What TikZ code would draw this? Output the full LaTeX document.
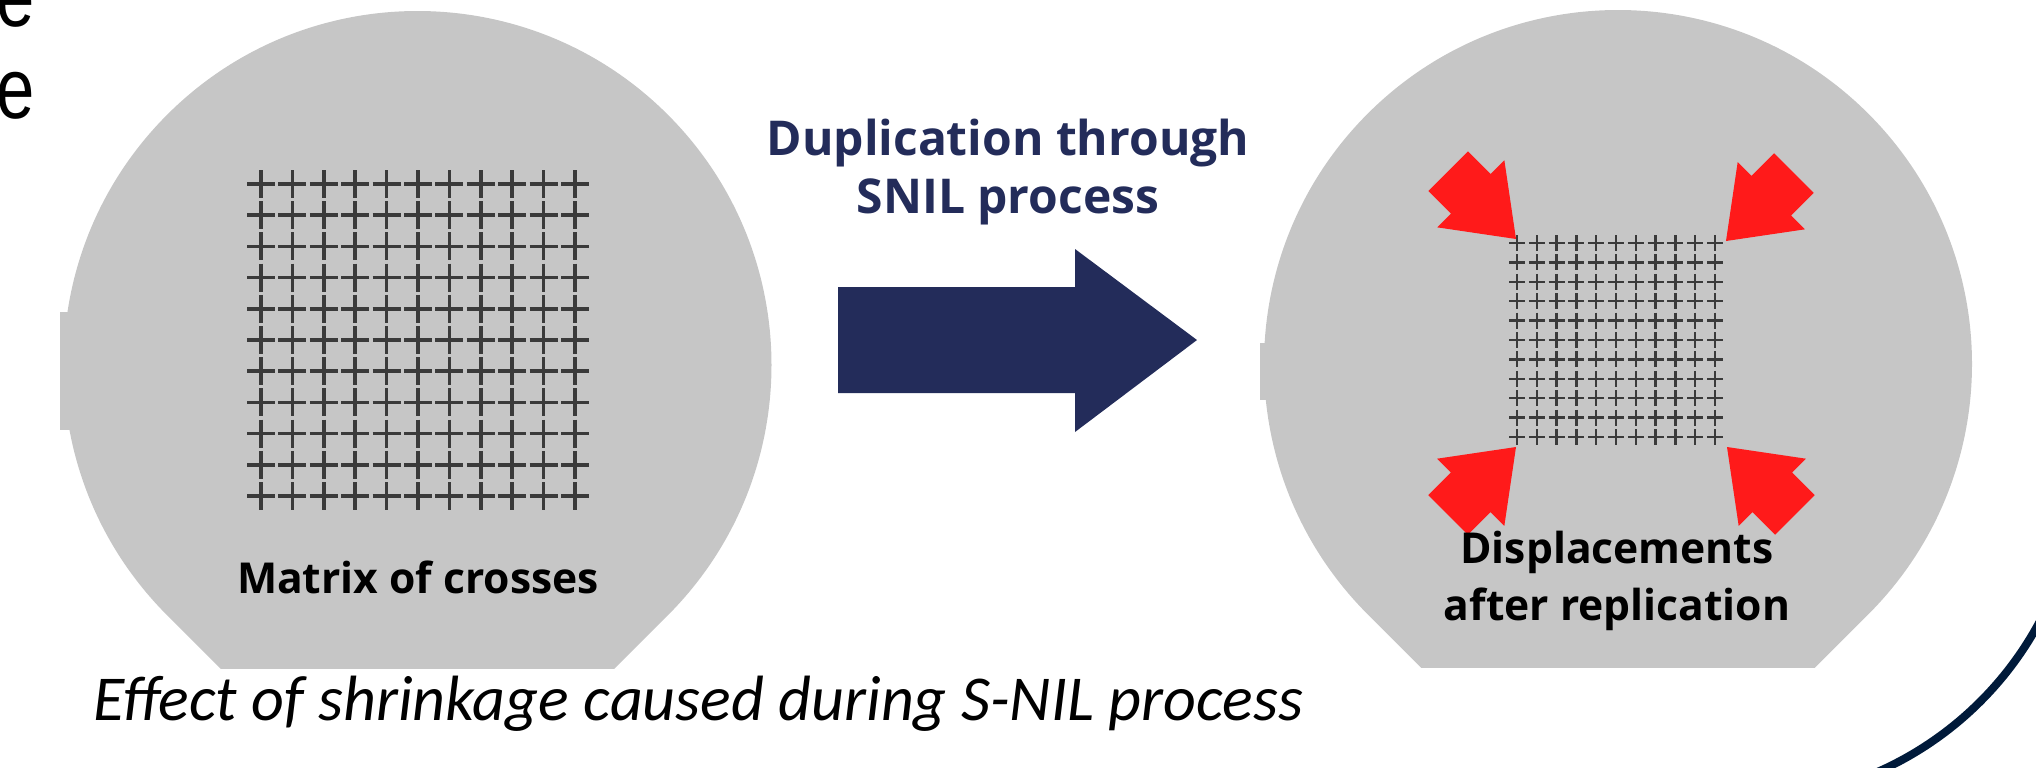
\documentclass[tikz,border=0pt]{standalone}
\usepackage{fontspec}
\newfontfamily\opensans{Open Sans}
\newfontfamily\carlito{Carlito}
\newfontfamily\arial{Liberation Sans}
\usetikzlibrary{positioning}
\definecolor{oblea}{HTML}{C6C6C6}
\definecolor{marino}{HTML}{232C5A}
\definecolor{rojo}{HTML}{FF1A1A}
\definecolor{cruz}{HTML}{3A3A3A}
\definecolor{borde}{HTML}{001A3A}

\begin{document}
\begin{tikzpicture}[x=0.5pt,y=-0.5pt,
  etiqueta/.style={font=\opensans\bfseries\fontsize{21.3}{25}\selectfont,inner sep=0pt,anchor=base},
  titulo/.style={etiqueta,font=\opensans\bfseries\fontsize{24}{29}\selectfont,text=marino},
  letra/.style={font=\arial\fontsize{43}{46}\selectfont,inner sep=0pt,anchor=base east},
  oblealin/.style={fill=oblea},
  cruzgr/.style={draw=cruz,line width=1.75pt},
  cruzch/.style={draw=cruz,line width=1.25pt}]
\useasboundingbox (0,0) rectangle (2036,767);
\clip (0,0) rectangle (2036,767);

\coordinate (obleaIzq) at (417.5,365);
\coordinate (obleaDer) at (1618,364);
\coordinate (marco) at (1740,461);

\foreach \c in {obleaIzq,obleaDer}
  \fill[oblealin] (\c) ++(135:354) arc[start angle=135,end angle=405,radius=354]
    -- ++(-53.5,53.5) -- ++(-393.6,0) -- cycle;
\fill[oblealin] (60,312) rectangle (75,430);
\fill[oblealin] (1260,343) rectangle (1270,400);

\foreach \i in {0,...,10}
  \foreach \j in {0,...,10}
    \draw[cruzgr,shift={({261+\i*31.4},{184+\j*31.2})}] (-14,0) -- (14,0) (0,-14) -- (0,14);

\foreach \i in {0,...,10}
  \foreach \j in {0,...,10}
    \draw[cruzch,shift={({1517+\i*19.8},{243+\j*19.4})}] (-8,0) -- (8,0) (0,-8) -- (0,8);

\fill[marino] (838,287) -- (1075,287) -- (1075,249) -- (1197,340) -- (1075,432)
  -- (1075,393) -- (838,393) -- cycle;

\foreach \x/\y/\ang in {1516/239/-45,1726/241/-135,1516/447/45,1727/447/135}
  \fill[rojo,shift={(\x,\y)},rotate=\ang] (0,0) -- (-64,47.5) -- (-64,28) -- (-96,28)
    -- (-96,-28) -- (-64,-28) -- (-64,-47.5) -- cycle;

\draw[borde,line width=4pt] (marco) ++(15:340) arc[start angle=15,end angle=85,radius=340];

\node[etiqueta] (matriz) at (418,593) {Matrix of crosses};
\node[etiqueta] (despl) at (1617,563) {Displacements};
\node[etiqueta] (replic) at (1617,620) {after replication};
\node[titulo] (dupl) at (1008,155) {Duplication through};
\node[titulo] (snil) at (1008,213) {SNIL process};
\node[font=\carlito\itshape\fontsize{32}{38}\selectfont,inner sep=0pt,anchor=base] (pie) at (698,720)
  {Effect of shrinkage caused during S-NIL process};
\node[letra] (letraA) at (35,26) {\scalebox{0.8}[1]{e}};
\node[letra] (letraB) at (35,118) {\scalebox{0.8}[1]{e}};
\end{tikzpicture}
\end{document}
